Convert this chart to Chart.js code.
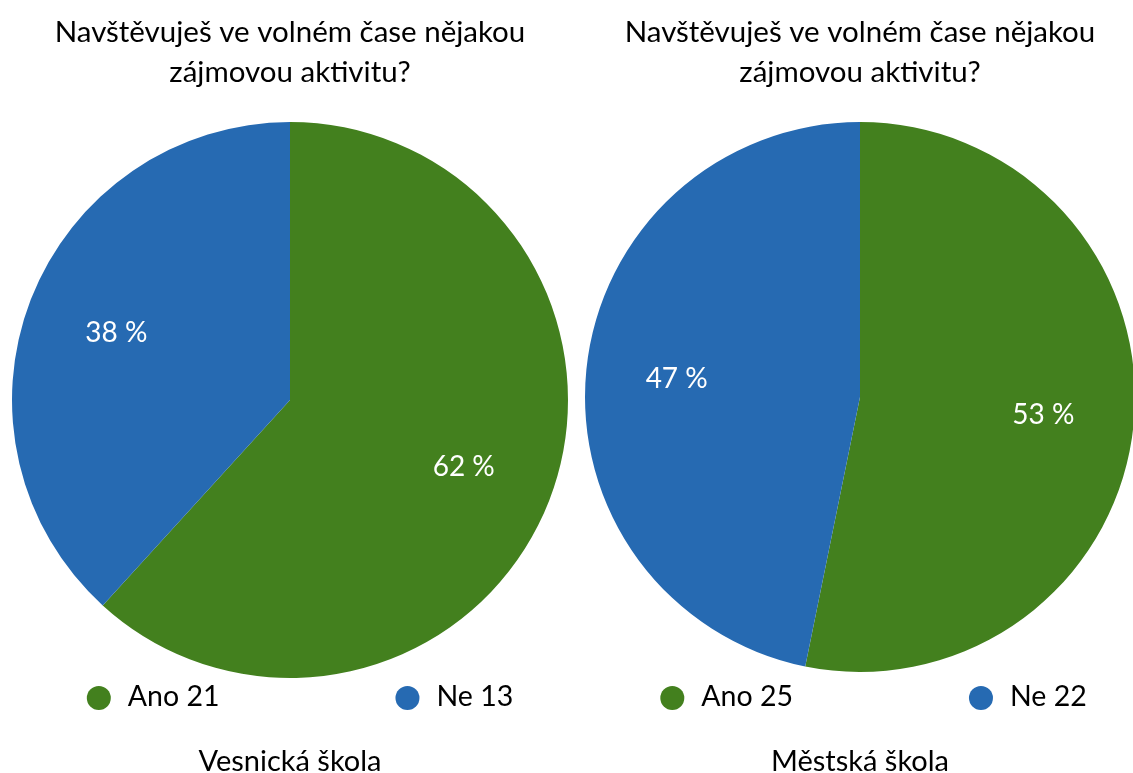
<!DOCTYPE html>
<html><head><meta charset="utf-8">
<script src="https://cdn.jsdelivr.net/npm/chart.js@4"></script>
<style>
html,body{margin:0;padding:0;background:#fff;width:1133px;height:773px;overflow:hidden;}
.box{position:absolute;top:0;width:580px;height:773px;}
</style></head><body>
<div class="box" style="left:0"><canvas id="c1"></canvas></div>
<div class="box" style="left:570px"><canvas id="c2"></canvas></div>
<script>
const categories = ['Ano', 'Ne'];
const titleLines = ['Navštěvuješ ve volném čase nějakou', 'zájmovou aktivitu?'];
const schools = ['Vesnická škola', 'Městská škola'];
const valuesVesnicka = [21, 13];
const valuesMestska = [25, 22];
const colors = ['#43801E', '#266AB2'];

const FONT = 'Lato, "Open Sans", sans-serif';

const customPlugin = {
  id: 'custom',
  afterDatasetsDraw(chart, args, opts) {
    const ctx = chart.ctx;
    const meta = chart.getDatasetMeta(0);
    const data = chart.data.datasets[0].data;
    const bg = chart.data.datasets[0].backgroundColor;
    const sum = data.reduce((a, b) => a + b, 0);
    ctx.save();
    ctx.font = opts.labelSize + 'px ' + FONT;
    ctx.fillStyle = '#fff';
    ctx.textAlign = 'center';
    ctx.textBaseline = 'middle';
    meta.data.forEach((arc, i) => {
      const p = arc.getProps(['x', 'y', 'startAngle', 'endAngle', 'outerRadius'], true);
      const mid = (p.startAngle + p.endAngle) / 2;
      const r = p.outerRadius * opts.labelRatio;
      ctx.fillText(Math.round(data[i] / sum * 100) + ' %', p.x + Math.cos(mid) * r, p.y + Math.sin(mid) * r);
    });
    // legend
    ctx.font = opts.legendSize + 'px ' + FONT;
    ctx.textAlign = 'left';
    ctx.textBaseline = 'alphabetic';
    const items = chart.data.labels.map((l, i) => ({ text: l + ' ' + data[i], color: bg[i] }));
    const widths = items.map(it => 2 * opts.dotR + opts.dotGap + ctx.measureText(it.text).width);
    const totalW = widths.reduce((a, b) => a + b, 0) + opts.itemGap * (items.length - 1);
    let x = (chart.chartArea.left + chart.chartArea.right) / 2 + opts.legendShift - totalW / 2;
    items.forEach((it, i) => {
      ctx.fillStyle = it.color;
      ctx.beginPath();
      ctx.arc(x + opts.dotR, opts.dotY, opts.dotR, 0, Math.PI * 2);
      ctx.fill();
      ctx.fillStyle = '#000';
      ctx.fillText(it.text, x + 2 * opts.dotR + opts.dotGap, opts.textBaseline);
      x += widths[i] + opts.itemGap;
    });
    ctx.restore();
  }
};

function makeChart(id, values, school, pad, subPadTop, legendShift) {
  return new Chart(document.getElementById(id), {
    type: 'pie',
    data: {
      labels: categories,
      datasets: [{ data: values, backgroundColor: colors, borderWidth: 0, hoverOffset: 0 }]
    },
    options: {
      responsive: true,
      maintainAspectRatio: false,
      animation: false,
      events: [],
      rotation: 0,
      layout: { padding: { left: pad, right: pad, top: 0, bottom: 0 } },
      plugins: {
        legend: { display: false },
        tooltip: { enabled: false },
        title: {
          display: true,
          text: titleLines,
          color: '#000',
          font: { family: FONT, size: 29.5, weight: 'normal', lineHeight: 1.356 },
          padding: { top: 12, bottom: 30 }
        },
        subtitle: {
          display: true,
          position: 'bottom',
          text: school,
          color: '#000',
          font: { family: FONT, size: 29, weight: 'normal', lineHeight: 0.75 },
          padding: { top: subPadTop, bottom: 0.15 }
        },
        custom: {
          labelRatio: 0.67, labelSize: 28, legendSize: 28.5,
          dotR: 12, dotGap: 17, itemGap: 176, legendShift: legendShift,
          dotY: 698, textBaseline: 705.5
        }
      }
    },
    plugins: [customPlugin]
  });
}

makeChart('c1', valuesVesnicka, schools[0], 12, 73.1, 10);
makeChart('c2', valuesMestska, schools[1], 15, 79.1, 13.5);
</script>
</body></html>
